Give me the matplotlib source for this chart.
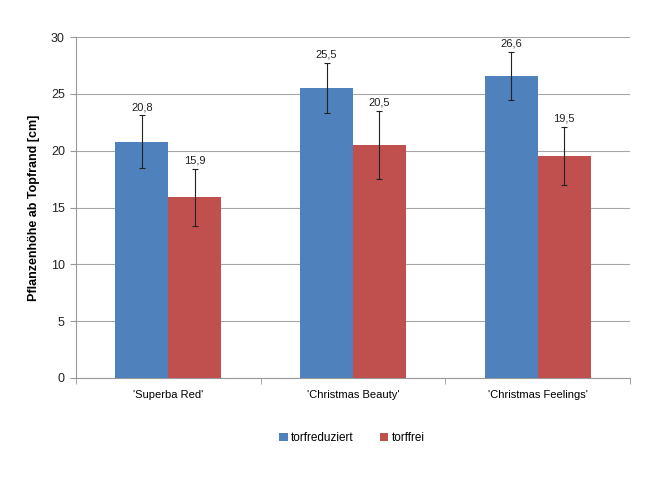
import matplotlib
matplotlib.use("Agg")
import matplotlib.pyplot as plt
import numpy as np

categories = ["'Superba Red'", "'Christmas Beauty'", "'Christmas Feelings'"]
series_names = ["torfreduziert", "torffrei"]
torfreduziert = [20.8, 25.5, 26.6]
torffrei = [15.9, 20.5, 19.5]
err_torfreduziert = [2.3, 2.2, 2.1]
err_torffrei = [2.5, 3.0, 2.55]
value_labels_reduz = ["20,8", "25,5", "26,6"]
value_labels_frei = ["15,9", "20,5", "19,5"]

colors = ["#4F81BD", "#C0504D"]
plt.rcParams['font.family'] = ['Liberation Sans', 'DejaVu Sans']

fig = plt.figure(figsize=(6.46, 4.84), dpi=100)
ax = fig.add_axes([76/646, 1-378/484, (630-76)/646, (378-37)/484])

x = np.arange(len(categories))
w = 0.287
ecol = "#222222"
b1 = ax.bar(x - w/2, torfreduziert, w, color=colors[0], label=series_names[0], zorder=3)
b2 = ax.bar(x + w/2, torffrei, w, color=colors[1], label=series_names[1], zorder=3)
ax.errorbar(x - w/2, torfreduziert, yerr=err_torfreduziert, fmt='none', ecolor=ecol,
            elinewidth=0.8, capsize=2.5, capthick=0.8, zorder=4)
ax.errorbar(x + w/2, torffrei, yerr=err_torffrei, fmt='none', ecolor=ecol,
            elinewidth=0.8, capsize=2.5, capthick=0.8, zorder=4)

for xi, v, e, lab in zip(x - w/2, torfreduziert, err_torfreduziert, value_labels_reduz):
    ax.text(xi, v + e + 0.3, lab, ha='center', va='bottom', fontsize=8, color='#222222')
for xi, v, e, lab in zip(x + w/2, torffrei, err_torffrei, value_labels_frei):
    ax.text(xi, v + e + 0.3, lab, ha='center', va='bottom', fontsize=8, color='#222222')

ax.set_xlim(-0.5, 2.5)
ax.set_ylim(0, 30)
ax.set_yticks(np.arange(0, 31, 5))
ax.set_xticks(x)
ax.set_xticklabels(categories, fontsize=8)
ax.set_xticks([-0.5, 0.5, 1.5, 2.5], minor=True)
ax.tick_params(axis='x', which='major', length=0, pad=9)
ax.tick_params(axis='x', which='minor', length=4, color='#999999')
ax.tick_params(axis='y', length=4, color='#999999', labelsize=9, labelcolor='#222222', pad=4)
ax.grid(axis='y', color='#A6A6A6', linewidth=0.8, zorder=0)
for s in ['top', 'right']:
    ax.spines[s].set_visible(False)
ax.spines['left'].set_color('#999999')
ax.spines['bottom'].set_color('#999999')
ax.set_ylabel("Pflanzenhöhe ab Topfrand [cm]", fontsize=9, fontweight='bold', labelpad=8)

fig.legend(handles=[b1, b2], labels=series_names, loc='center', bbox_to_anchor=(352/646, 1-438/484),
           ncol=2, frameon=False, fontsize=8.5, handlelength=0.7, handleheight=0.7,
           columnspacing=2.2, handletextpad=0.3)

fig.savefig("out.png", dpi=100)
